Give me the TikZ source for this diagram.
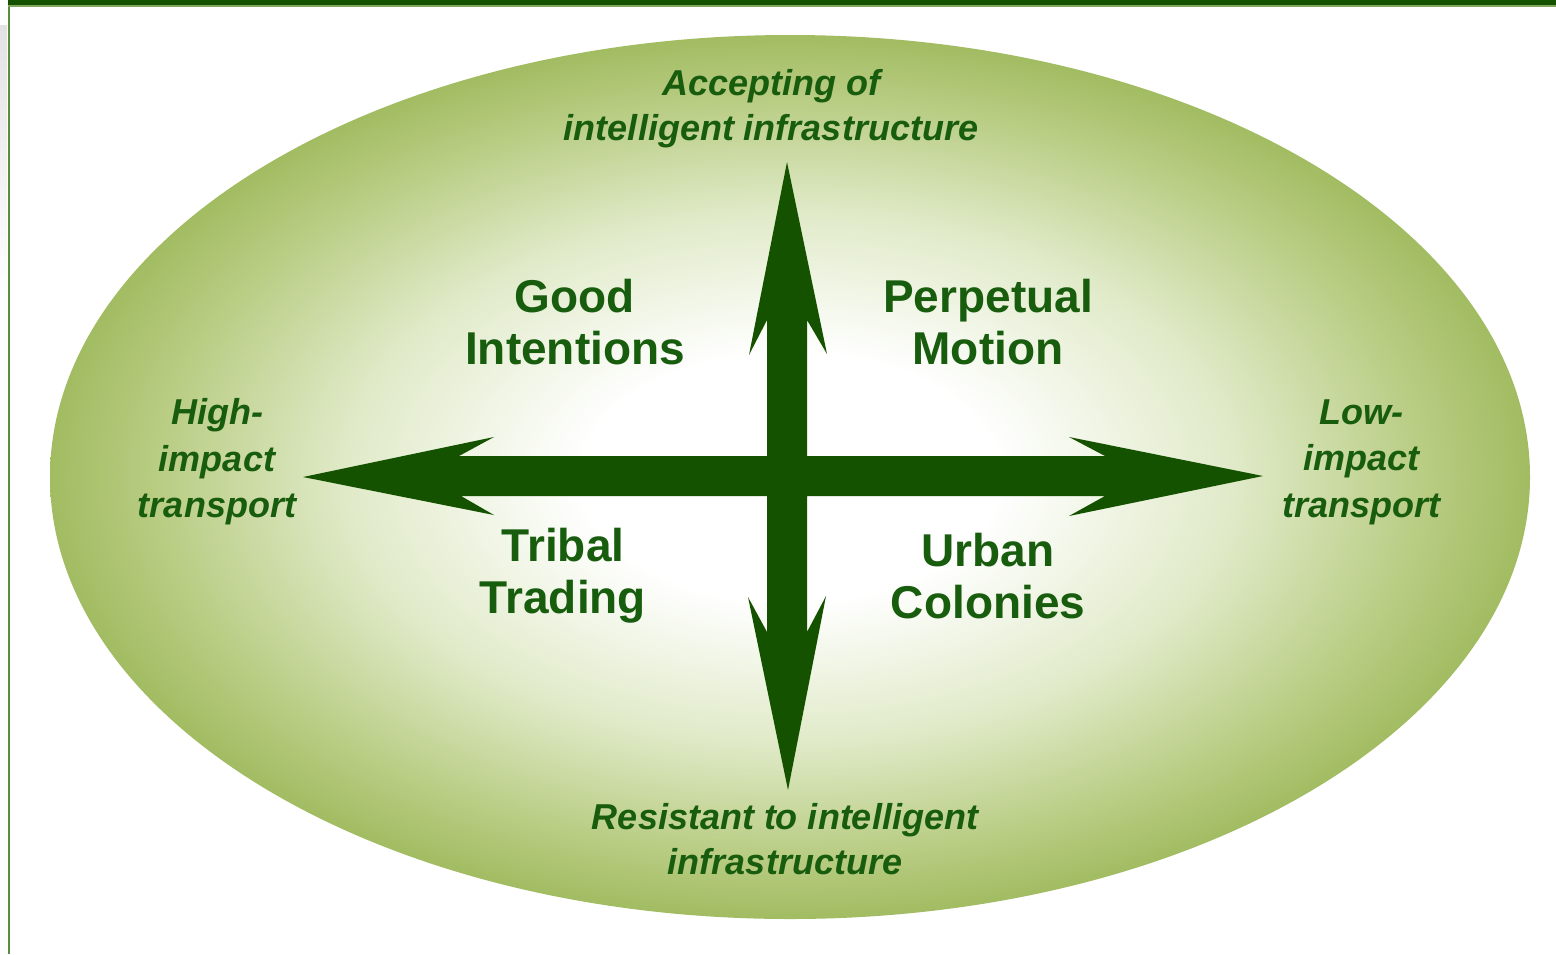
\documentclass[tikz,border=0pt]{standalone}
\usepackage{fontspec}
\setmainfont{Liberation Sans}
\usetikzlibrary{shadings}

\definecolor{arrowgreen}{RGB}{20,82,0}
\definecolor{labelgreen}{RGB}{24,92,14}
\definecolor{barlight}{RGB}{128,166,96}
\definecolor{sideline}{RGB}{92,140,62}
\definecolor{ovalmid}{RGB}{224,234,200}
\definecolor{ovalrim}{RGB}{184,204,130}
\definecolor{ovaledge}{RGB}{162,188,98}

% soft white centre fading to olive green at the rim of the oval
\pgfdeclareradialshading{ovalglow}{\pgfpoint{0bp}{0bp}}{%
  color(0bp)=(white); color(7bp)=(white); color(15bp)=(ovalmid);
  color(21.5bp)=(ovalrim); color(25bp)=(ovaledge); color(50bp)=(ovaledge)}

\tikzset{
  quadrant/.style={text=labelgreen, align=center, inner sep=0pt,
    font=\bfseries\fontsize{23}{26}\selectfont},
  pole/.style={text=labelgreen, align=center, inner sep=0pt,
    font=\bfseries\itshape\fontsize{18}{22.5}\selectfont},
  sidepole/.style={pole, font=\bfseries\itshape\fontsize{18}{23.3}\selectfont},
}

\begin{document}
\begin{tikzpicture}[x=0.5pt, y=-0.5pt]
  \useasboundingbox (0,0) rectangle (1556,954);
  \fill[white] (0,0) rectangle (1556,954);

  % page frame: faint shadow, left rule and heading bar
  \shade[top color=gray!22, bottom color=white] (0,25) rectangle (7,300);
  \fill[sideline] (8,0) rectangle (10,954);
  \fill[arrowgreen] (8,0) rectangle (1556,5);
  \fill[barlight] (8,5) rectangle (1556,6.5);

  % the oval
  \shade[shading=ovalglow] (790,477) ellipse [x radius=370pt, y radius=221pt];

  % the two crossing double arrows
  \fill[arrowgreen]
    (787,162) -- (827,354) -- (807,320) -- (807,456)
    -- (1105,456) -- (1069,437) -- (1263,476) -- (1069,516) -- (1105,496)
    -- (807,496) -- (807,632) -- (826,596) -- (788,790) -- (748,597) -- (767,632)
    -- (767,496) -- (461,496) -- (494,515) -- (303,477) -- (494,437) -- (459,456)
    -- (767,456) -- (767,320) -- (749,355) -- cycle;

  % axis ends
  \node[pole] (accept) at (771,109) {Accepting of\\intelligent infrastructure};
  \node[pole] (resist) at (785,839) {Resistant to intelligent\\infrastructure};
  \node[sidepole] (high) at (217,462) {High-\\impact\\transport};
  \node[sidepole] (low) at (1361,462) {Low-\\impact\\transport};

  % scenarios
  \node[quadrant] (good) at (575,322) {Good\\Intentions};
  \node[quadrant] (perpetual) at (988,322) {Perpetual\\Motion};
  \node[quadrant] (tribal) at (563,576) {Tribal\\Trading};
  \node[quadrant] (urban) at (988,576) {Urban\\Colonies};
\end{tikzpicture}
\end{document}
